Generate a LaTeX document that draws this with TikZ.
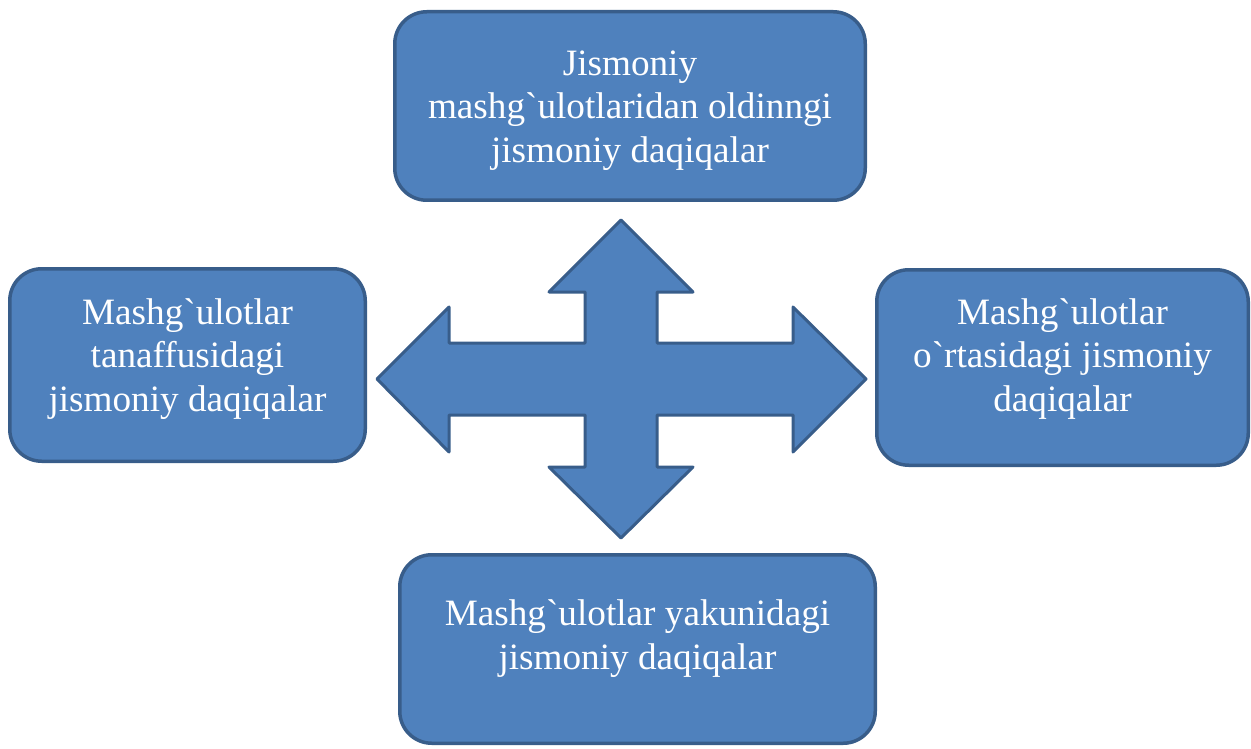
\documentclass[tikz,border=0pt]{standalone}
\usepackage{fontspec}
\setmainfont{Liberation Serif}[Ligatures=TeXOff]
\usepackage{tikz}
\definecolor{boxfill}{HTML}{4F81BD}
\definecolor{boxline}{HTML}{385D8A}
\tikzstyle{box}=[draw=boxline,fill=boxfill,line width=3.5pt,rounded corners=32pt,inner sep=0pt]
\tikzstyle{txt}=[white,align=center,inner sep=0pt,font=\fontsize{37.2}{43.8}\selectfont]
\tikzstyle{cross}=[draw=boxline,fill=boxfill,line width=3pt,line join=round]

\begin{document}
\begin{tikzpicture}[x=1pt,y=-1pt]
    \useasboundingbox (0,0) rectangle (1251,749);
    % four boxes round the cross
    \foreach \n/\x/\y/\w/\h/\dy/\t in {oldin/630/106/474/192/4.5/{Jismoniy\\mashg`ulotlaridan oldinngi\\jismoniy daqiqalar},
        tanaffus/187.5/365/359/196/-6/{Mashg`ulotlar\\tanaffusidagi\\jismoniy daqiqalar},
        ortasi/1062.5/367.5/375/199/-8.5/{Mashg`ulotlar\\o`rtasidagi jismoniy\\daqiqalar},
        yakun/637.5/649/479/192/-10.5/{Mashg`ulotlar yakunidagi\\jismoniy daqiqalar}} {
        \node[box,minimum width=\w pt-3.5pt,minimum height=\h pt-3.5pt] (\n) at (\x,\y) {};
        \node[txt] (\n-t) at (\x,\y+\dy) {\t};}
    % the four-way arrow
    \coordinate (c) at (621,379);
    \draw[cross] (621,220) -- (693,292) -- (657,292) -- (657,343) -- (793,343) -- (793,307) -- (866,379)
        -- (793,452) -- (793,415) -- (657,415) -- (657,467) -- (693,467) -- (621,538) -- (549,467)
        -- (585,467) -- (585,415) -- (449,415) -- (449,452) -- (377,379) -- (449,307) -- (449,343)
        -- (585,343) -- (585,292) -- (549,292) -- cycle;
\end{tikzpicture}
\end{document}
